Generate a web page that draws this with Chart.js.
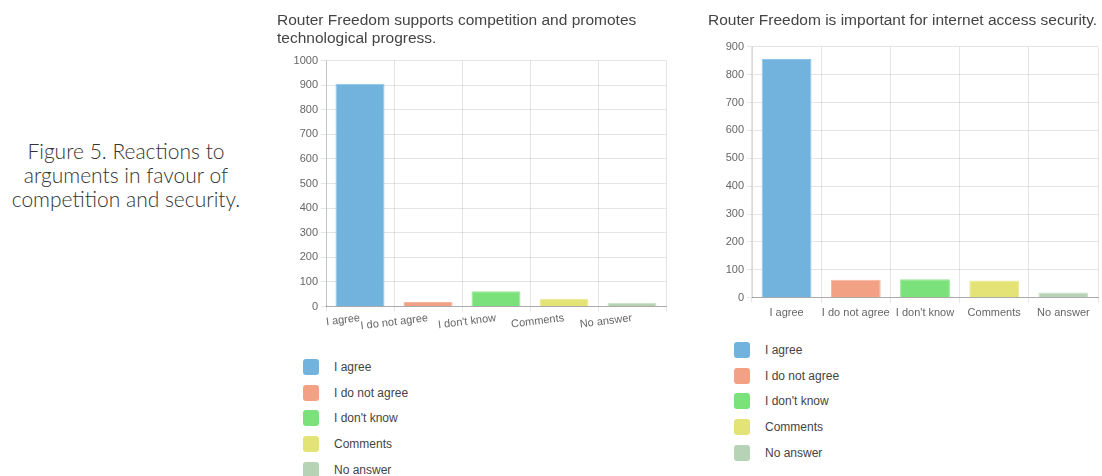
<!DOCTYPE html>
<html>
<head>
<meta charset="utf-8">
<script src="https://cdn.jsdelivr.net/npm/chart.js@4/dist/chart.umd.min.js"></script>
<style>
  body { margin: 0; width: 1102px; height: 476px; background: #fff; position: relative; overflow: hidden; font-family: 'Liberation Sans', Arial, sans-serif; }
  #caption { position: absolute; left: 0; top: 139px; width: 252px; text-align: center; font-family: Lato, sans-serif; font-weight: 300; font-size: 21px; line-height: 24px; color: #333; }
  .wrap { position: absolute; }
  .legend { position: absolute; }
  .legend div { height: 25.8px; display: flex; align-items: center; font-size: 12px; color: #444; }
  .legend span { display: inline-block; width: 16px; height: 16px; border-radius: 3px; margin-right: 15px; }
</style>
</head>
<body>
<div id="caption">Figure 5. Reactions to<br>arguments in favour of<br>competition and security.</div>
<div class="wrap" style="left:270px;top:0"><canvas id="compChart" width="400" height="340"></canvas></div>
<div class="wrap" style="left:708px;top:0"><canvas id="secChart" width="394" height="325"></canvas></div>
<div class="legend" id="compLegend" style="left:303px;top:354px"></div>
<div class="legend" id="secLegend" style="left:734px;top:337px"></div>
<script>
  const answers = ['I agree', 'I do not agree', "I don't know", 'Comments', 'No answer'];
  const answerColors = ['#72b3de', '#f2a184', '#7be17a', '#e4e476', '#b7d3b5'];
  const answerBorders = ['#8cc3e6', '#f5b49c', '#95e894', '#ebeb95', '#c8dec6'];

  const competitionTitle = ['Router Freedom supports competition and promotes', 'technological progress.'];
  const competitionVotes = [906, 18, 62, 32, 15];

  const securityTitle = 'Router Freedom is important for internet access security.';
  const securityVotes = [856, 64, 66, 62, 19];

  Chart.defaults.font.family = "'Liberation Sans', Arial, sans-serif";
  Chart.defaults.color = '#666';

  function renderLegend(id) {
    const box = document.getElementById(id);
    answers.forEach((a, i) => {
      const row = document.createElement('div');
      const sw = document.createElement('span');
      sw.style.background = answerColors[i];
      row.appendChild(sw);
      row.appendChild(document.createTextNode(a));
      box.appendChild(row);
    });
  }

  function makeChart(id, title, votes, o) {
    const ctx = document.getElementById(id).getContext('2d');
    return new Chart(ctx, {
      type: 'bar',
      data: {
        labels: answers,
        datasets: [{
          data: votes,
          backgroundColor: answerColors,
          borderColor: answerBorders,
          borderWidth: 1
        }]
      },
      options: {
        responsive: false,
        animation: false,
        layout: { padding: { left: o.padLeft, right: 4, top: 0, bottom: 0 } },
        plugins: {
          legend: { display: false },
          tooltip: { enabled: false },
          title: {
            display: true,
            text: title,
            align: 'start',
            color: '#444',
            font: { size: 15.5, weight: 'normal', lineHeight: 1.17 },
            padding: { top: 12, bottom: o.titleGap }
          }
        },
        scales: {
          x: {
            grid: { color: 'rgba(0,0,0,0.1)', tickLength: 5 },
            border: { color: '#aaa' },
            ticks: { font: { size: 11 }, autoSkip: false, minRotation: o.rot, maxRotation: o.rot, padding: o.xPad },
            afterFit: s => { s.height = o.xHeight; }
          },
          y: {
            min: 0,
            max: o.max,
            grid: { color: 'rgba(0,0,0,0.1)', tickLength: 5 },
            border: { color: 'rgba(0,0,0,0.15)' },
            ticks: { stepSize: 100, font: { size: 11 }, padding: 3, callback: v => String(v) },
            afterFit: s => { s.width = o.yWidth; }
          }
        }
      }
    });
  }

  makeChart('compChart', competitionTitle, competitionVotes,
    { padLeft: 7, titleGap: 12.3, xHeight: 33.5, yWidth: 49, rot: 7, max: 1000, xPad: 0 });
  makeChart('secChart', securityTitle, securityVotes,
    { padLeft: 0, titleGap: 16.7, xHeight: 27.3, yWidth: 44, rot: 0, max: 900, xPad: 4 });

  renderLegend('compLegend');
  renderLegend('secLegend');
</script>
</body>
</html>
